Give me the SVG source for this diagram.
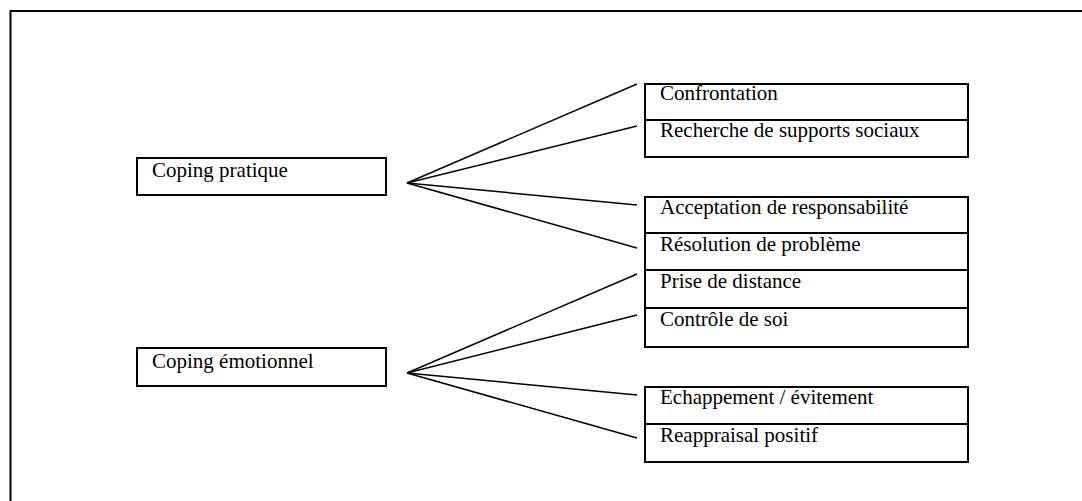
<svg xmlns="http://www.w3.org/2000/svg" width="1082" height="501" viewBox="0 0 1082 501">
  <style>
    .box { fill: #ffffff; stroke: #000000; stroke-width: 2; }
    .lbl { font-family: "Liberation Serif", "Times New Roman", serif; font-size: 21px; fill: #000000; }
    .fan { stroke: #000000; stroke-width: 1.5; fill: none; }
    .frame { stroke: #000000; stroke-width: 2; fill: none; }
  </style>
  <rect x="0" y="0" width="1082" height="501" fill="#ffffff"/>
  <!-- outer frame, open to the right and bottom -->
  <path class="frame" d="M10.5,501 V11 H1082"/>

  <!-- connectors fanning out from each coping type -->
  <g id="connectors">
    <line class="fan" x1="407" y1="183" x2="637" y2="84"/>
    <line class="fan" x1="407" y1="183" x2="637" y2="126"/>
    <line class="fan" x1="407" y1="183" x2="637" y2="205"/>
    <line class="fan" x1="407" y1="183" x2="637" y2="248"/>
    <line class="fan" x1="407" y1="373" x2="637" y2="274"/>
    <line class="fan" x1="407" y1="373" x2="637" y2="315"/>
    <line class="fan" x1="407" y1="373" x2="637" y2="395"/>
    <line class="fan" x1="407" y1="373" x2="637" y2="438"/>
  </g>

  <g id="coping-pratique">
    <rect class="box" x="137" y="158" width="249" height="37"/>
    <text class="lbl" x="152" y="177">Coping pratique</text>
  </g>
  <g id="coping-emotionnel">
    <rect class="box" x="137" y="348" width="249" height="38"/>
    <text class="lbl" x="152" y="368">Coping émotionnel</text>
  </g>

  <g id="confrontation">
    <rect class="box" x="645" y="84" width="323" height="36"/>
    <text class="lbl" x="660" y="100">Confrontation</text>
  </g>
  <g id="supports-sociaux">
    <rect class="box" x="645" y="120" width="323" height="37"/>
    <text class="lbl" x="660" y="137">Recherche de supports sociaux</text>
  </g>
  <g id="acceptation">
    <rect class="box" x="645" y="197" width="323" height="36"/>
    <text class="lbl" x="660" y="214">Acceptation de responsabilité</text>
  </g>
  <g id="resolution">
    <rect class="box" x="645" y="233" width="323" height="37"/>
    <text class="lbl" x="660" y="251">Résolution de problème</text>
  </g>
  <g id="prise-distance">
    <rect class="box" x="645" y="270" width="323" height="38"/>
    <text class="lbl" x="660" y="288">Prise de distance</text>
  </g>
  <g id="controle-soi">
    <rect class="box" x="645" y="308" width="323" height="39"/>
    <text class="lbl" x="660" y="326">Contrôle de soi</text>
  </g>
  <g id="echappement">
    <rect class="box" x="645" y="387" width="323" height="37"/>
    <text class="lbl" x="660" y="404">Echappement / évitement</text>
  </g>
  <g id="reappraisal">
    <rect class="box" x="645" y="424" width="323" height="38"/>
    <text class="lbl" x="660" y="442">Reappraisal positif</text>
  </g>
</svg>
